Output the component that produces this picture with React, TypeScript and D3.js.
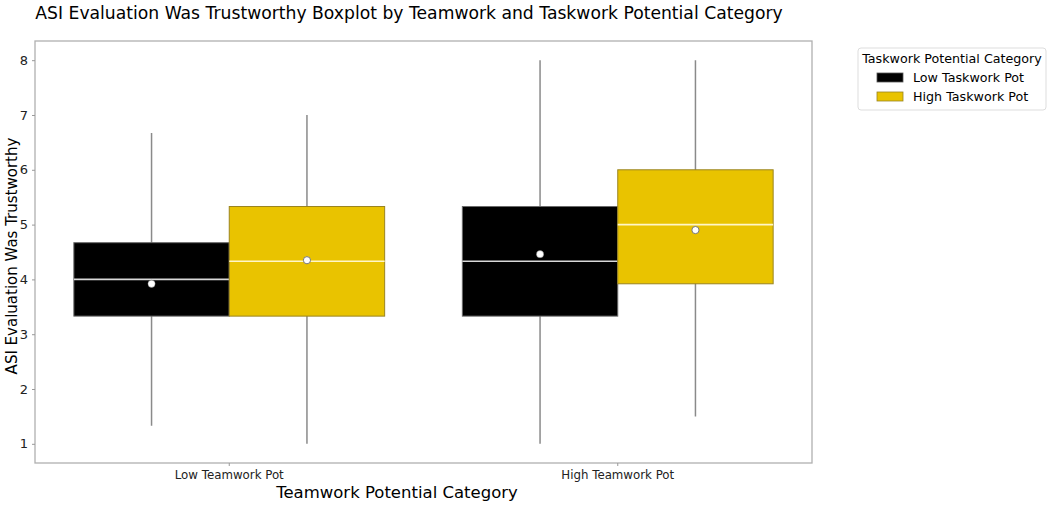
import { useRef, useEffect } from "react";
import * as d3 from "d3";

// data
const teamCats = ["Low Teamwork Pot", "High Teamwork Pot"];
const taskCats = ["Low Taskwork Pot", "High Taskwork Pot"];
const taskColors = ["#000000", "#e9c300"];
// one entry per [team][task]
const whiskLo = [[1.33, 1.0], [1.0, 1.5]];
const q1 = [[3.33, 3.33], [3.33, 3.92]];
const median = [[4.0, 4.33], [4.33, 5.0]];
const q3 = [[4.67, 5.33], [5.33, 6.0]];
const whiskHi = [[6.67, 7.0], [8.0, 8.0]];
const means = [[3.92, 4.35], [4.46, 4.9]];
const yTicks = [1, 2, 3, 4, 5, 6, 7, 8];

const App = () => {
  const svgRef = useRef(null);
  const width = 1052;
  const height = 505;
  const margin = { top: 41, right: 240, bottom: 42, left: 35 };

  useEffect(() => {
    const svg = d3.select(svgRef.current);
    svg.selectAll("*").remove();
    const font = "DejaVu Sans, sans-serif";

    const x = d3
      .scaleBand()
      .domain(teamCats)
      .range([margin.left, width - margin.right])
      .padding(0);
    const hue = d3
      .scaleBand()
      .domain(taskCats)
      .range([x.bandwidth() * 0.1, x.bandwidth() * 0.9]);
    const y = d3
      .scaleLinear()
      .domain([0.65, 8.35])
      .range([height - margin.bottom, margin.top]);

    // title
    svg
      .append("text")
      .attr("x", 409)
      .attr("y", 19)
      .attr("text-anchor", "middle")
      .attr("font-family", font)
      .attr("font-size", 17.2)
      .text("ASI Evaluation Was Trustworthy Boxplot by Teamwork and Taskwork Potential Category");

    // boxes
    const rows = [];
    teamCats.forEach((t, i) =>
      taskCats.forEach((k, j) => rows.push({ t, k, i, j }))
    );
    const g = svg.append("g");
    rows.forEach(({ t, k, i, j }) => {
      const x0 = x(t) + hue(k);
      const bw = hue.bandwidth();
      const cx = x0 + bw / 2;
      g.append("line")
        .attr("x1", cx).attr("x2", cx)
        .attr("y1", y(whiskLo[i][j])).attr("y2", y(whiskHi[i][j]))
        .attr("stroke", "#8a8a8a").attr("stroke-width", 1.5);
      g.append("rect")
        .attr("x", x0).attr("width", bw)
        .attr("y", y(q3[i][j]))
        .attr("height", y(q1[i][j]) - y(q3[i][j]))
        .attr("fill", taskColors[j])
        .attr("stroke", j === 0 ? "#6a6a6a" : "#9a8420")
        .attr("stroke-width", 1);
      g.append("line")
        .attr("x1", x0).attr("x2", x0 + bw)
        .attr("y1", y(median[i][j])).attr("y2", y(median[i][j]))
        .attr("stroke", j === 0 ? "#d8d8d8" : "#fff6c8")
        .attr("stroke-width", 1.6);
      g.append("circle")
        .attr("cx", cx).attr("cy", y(means[i][j]))
        .attr("r", 3.6)
        .attr("fill", "white")
        .attr("stroke", "#777").attr("stroke-width", j === 0 ? 0.4 : 1);
    });

    // frame
    svg
      .append("rect")
      .attr("x", margin.left)
      .attr("y", margin.top)
      .attr("width", width - margin.right - margin.left)
      .attr("height", height - margin.bottom - margin.top)
      .attr("fill", "none")
      .attr("stroke", "#b0b0b0")
      .attr("stroke-width", 1.3);

    // axes
    const yAxis = svg
      .append("g")
      .attr("transform", `translate(${margin.left},0)`)
      .call(d3.axisLeft(y).tickValues(yTicks).tickSize(3).tickPadding(4));
    yAxis.select(".domain").remove();
    yAxis.selectAll("line").attr("stroke", "#999");
    yAxis.selectAll("text").attr("font-family", font).attr("font-size", 13).attr("fill", "#222");

    const xAxis = svg
      .append("g")
      .attr("transform", `translate(0,${height - margin.bottom})`)
      .call(d3.axisBottom(x).tickSize(3).tickPadding(5));
    xAxis.select(".domain").remove();
    xAxis.selectAll("line").attr("stroke", "#999");
    xAxis.selectAll("text").attr("font-family", font).attr("font-size", 11.8).attr("fill", "#222");

    svg
      .append("text")
      .attr("x", 397)
      .attr("y", 498)
      .attr("text-anchor", "middle")
      .attr("font-family", font)
      .attr("font-size", 16.5)
      .text("Teamwork Potential Category");

    svg
      .append("text")
      .attr("transform", `translate(17,256) rotate(-90)`)
      .attr("text-anchor", "middle")
      .attr("font-family", font)
      .attr("font-size", 15)
      .text("ASI Evaluation Was Trustworthy");

    // legend
    const lg = svg.append("g").attr("transform", "translate(858,48)");
    lg.append("rect")
      .attr("width", 188).attr("height", 62).attr("rx", 3)
      .attr("fill", "white").attr("stroke", "#dddddd");
    lg.append("text")
      .attr("x", 94).attr("y", 15)
      .attr("text-anchor", "middle")
      .attr("font-family", font).attr("font-size", 12.7)
      .text("Taskwork Potential Category");
    taskCats.forEach((k, j) => {
      lg.append("rect")
        .attr("x", 19).attr("y", 25 + j * 19)
        .attr("width", 26).attr("height", 9)
        .attr("fill", taskColors[j])
        .attr("stroke", j === 0 ? "#555" : "#9a8420").attr("stroke-width", 0.8);
      lg.append("text")
        .attr("x", 55).attr("y", 34 + j * 19)
        .attr("font-family", font).attr("font-size", 12.7)
        .text(k);
    });
  }, []);

  return (
    <svg
      ref={svgRef}
      width={width}
      height={height}
      style={{ position: "absolute", left: 0, top: 0 }}
    />
  );
};

export default App;
